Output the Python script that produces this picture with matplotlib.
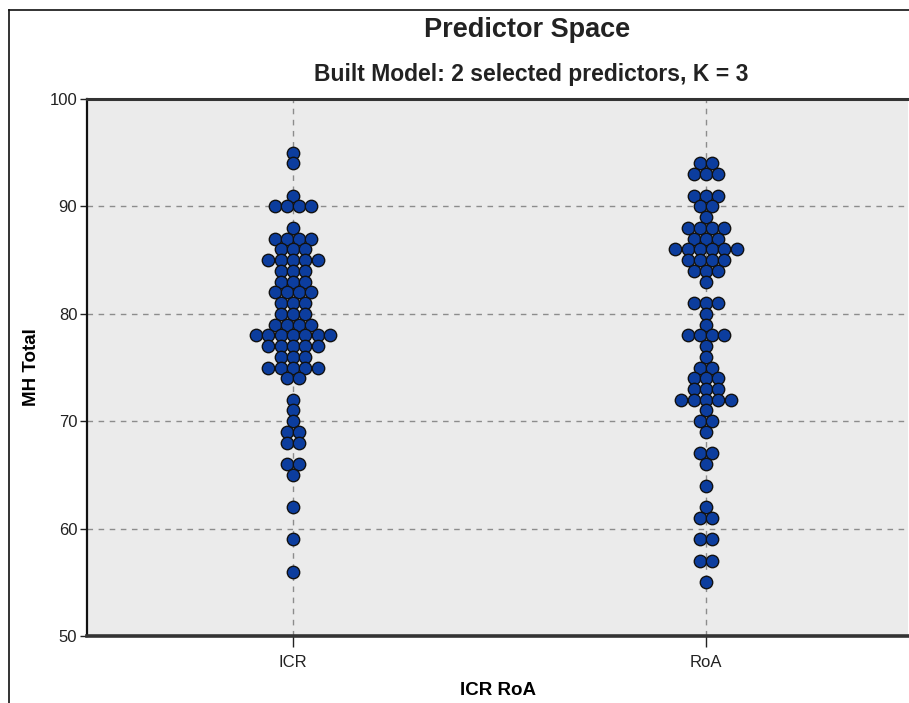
import matplotlib
matplotlib.use("Agg")
import matplotlib.pyplot as plt
import numpy as np
from matplotlib.lines import Line2D

plt.rcParams['font.family'] = ['Liberation Sans', 'DejaVu Sans']

categories = ["ICR", "RoA"]

icr_values = [95, 94, 91, 90, 88, 87, 86, 85, 84, 83, 82, 81, 80, 79, 78, 77, 76, 75, 74,
              72, 71, 70, 69, 68, 66, 65, 62, 59, 56]
icr_counts = [1, 1, 1, 4, 1, 4, 3, 5, 3, 3, 4, 3, 3, 4, 7, 5, 3, 5, 2,
              1, 1, 1, 2, 2, 2, 1, 1, 1, 1]

roa_values = [94, 93, 91, 90, 89, 88, 87, 86, 85, 84, 83, 81, 80, 79, 78, 77, 76, 75, 74,
              73, 72, 71, 70, 69, 67, 66, 64, 62, 61, 59, 57, 55]
roa_counts = [2, 3, 3, 2, 1, 4, 3, 6, 4, 3, 1, 3, 1, 1, 4, 1, 1, 2, 3,
              3, 5, 1, 2, 1, 2, 1, 1, 1, 2, 2, 2, 1]

y_ticks = [50, 60, 70, 80, 90, 100]

W, H = 909, 703
fig = plt.figure(figsize=(W / 100, H / 100), dpi=100)

ax_l, ax_r, ax_t, ax_b = 87, 908, 99, 636
ax = fig.add_axes([ax_l / W, (H - ax_b) / H, (ax_r - ax_l) / W, (ax_b - ax_t) / H])
ax.set_facecolor('#ebebeb')

px_per_unit = 413.0
ax.set_xlim(-(293 - ax_l) / px_per_unit, (ax_r - 293) / px_per_unit)
ax.set_ylim(50, 100)
spacing = 12.3 / px_per_unit

series = [(icr_values, icr_counts), (roa_values, roa_counts)]
for ci, (vals, cnts) in enumerate(series):
    xs, ys = [], []
    for v, n in zip(vals, cnts):
        offs = (np.arange(n) - (n - 1) / 2.0) * spacing
        xs.extend(ci + offs)
        ys.extend([v] * n)
    ax.scatter(xs, ys, s=80, facecolor='#0c3d9e', edgecolor='#111111',
               linewidth=1.0, zorder=3, clip_on=False)

for yv in [60, 70, 80, 90]:
    ax.axhline(yv, color='#8c8c8c', lw=1.0, ls=(0, (4, 4)), zorder=1)
for xv in range(len(categories)):
    ax.axvline(xv, color='#8c8c8c', lw=1.0, ls=(0, (4, 4)), zorder=1)

ax.set_xticks(range(len(categories)))
ax.set_xticklabels(categories)
ax.set_yticks(y_ticks)
ax.tick_params(axis='y', length=5, width=1, labelsize=12, colors='#222222', pad=2)
ax.tick_params(axis='x', length=8, width=1, labelsize=12, colors='#222222', pad=6)

ax.spines['right'].set_visible(False)
ax.spines['left'].set_linewidth(1.6)
ax.spines['left'].set_color('#111111')
ax.spines['top'].set_linewidth(2.2)
ax.spines['top'].set_color('#333333')
ax.spines['bottom'].set_linewidth(2.6)
ax.spines['bottom'].set_color('#333333')

ax.set_xlabel("ICR RoA", fontsize=13.5, fontweight='bold', labelpad=8)
ax.set_ylabel("MH Total", fontsize=13.5, fontweight='bold', labelpad=7)

fig.text(527 / W, 1 - 30 / H, "Predictor Space", ha='center', va='center',
         fontsize=19.5, fontweight='bold', color='#222222')
fig.text(531 / W, 1 - 75 / H, "Built Model: 2 selected predictors, K = 3", ha='center',
         va='center', fontsize=16.5, fontweight='bold', color='#222222')

# outer frame
fig.add_artist(Line2D([9 / W, 9 / W], [0, 1 - 10 / H], transform=fig.transFigure,
                      color='#111111', lw=1.2))
fig.add_artist(Line2D([9 / W, 1], [1 - 10 / H, 1 - 10 / H], transform=fig.transFigure,
                      color='#111111', lw=1.2))

fig.savefig("out.png", dpi=100)
